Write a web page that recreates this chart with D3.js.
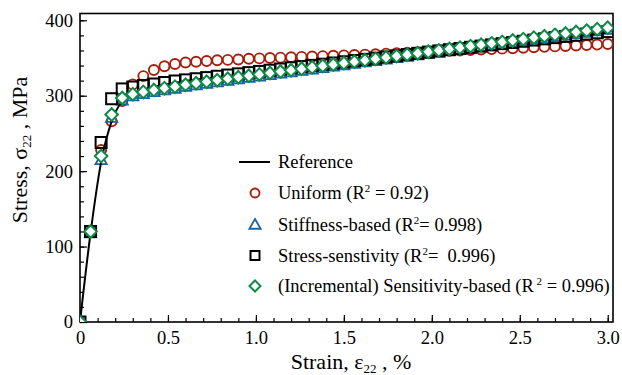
<!DOCTYPE html>
<html>
<head>
<meta charset="utf-8">
<script src="https://cdn.jsdelivr.net/npm/d3@7"></script>
<style>
  body { margin: 0; background: #fff; }
</style>
</head>
<body>
<div id="chart"></div>
<script>
const strain = [0, 0.06, 0.12, 0.18, 0.24, 0.30, 0.36, 0.42, 0.48, 0.54, 0.60, 0.66, 0.72, 0.78, 0.84, 0.90, 0.96,
  1.02, 1.08, 1.14, 1.20, 1.26, 1.32, 1.38, 1.44, 1.50, 1.56, 1.62, 1.68, 1.74, 1.80, 1.86, 1.92, 1.98,
  2.04, 2.10, 2.16, 2.22, 2.28, 2.34, 2.40, 2.46, 2.52, 2.58, 2.64, 2.70, 2.76, 2.82, 2.88, 2.94, 3.00];

const reference = [0, 118, 212, 266, 293, 303, 308, 311.5, 314.5, 317, 319.5, 321.5, 323, 324.6, 326.2, 327.8, 329.4,
  331, 332.6, 334.2, 335.8, 337.4, 339, 340.6, 342.2, 343.8, 345.4, 347, 348.6, 350.2, 351.8, 353.4, 355, 356.6,
  358.2, 359.8, 361.4, 363, 364.6, 366.2, 367.8, 369.4, 371, 372.6, 374.2, 375.8, 377.4, 379, 380.6, 382.2, 383.8];

const uniform = [0, 120, 228, 266, 293, 315, 326, 334, 339, 342, 344, 345, 346, 347, 347.5, 348, 349,
  349.5, 350, 350.5, 351, 351.5, 352, 352.5, 353, 353.5, 354, 354.5, 355, 355.8, 356.4, 357, 357.6, 358.2,
  358.8, 359.4, 360, 360.6, 361.2, 361.8, 362.4, 363, 363.6, 364.2, 364.8, 365.4, 366, 366.6, 367.2, 367.8, 368.6];

const stiffness = [0, 118, 215, 271, 294, 299.5, 302.5, 305, 307.5, 309.5, 312, 314, 316, 318, 320, 322, 324,
  325.7, 327.6, 329.5, 331.3, 333.2, 335.1, 337, 338.8, 340.7, 342.6, 344.5, 346.3, 348.2, 350.1, 351.9, 353.8, 355.7,
  357.6, 359.4, 361.3, 363.2, 365.1, 366.9, 368.8, 370.7, 372.5, 374.4, 376.3, 378.2, 380, 381.9, 383.8, 385.7, 387.5];

const stressSens = [0, 120, 238, 296, 309, 311.5, 313.5, 315.5, 317.5, 319.5, 321, 322.5, 324, 325.8, 327.4, 329, 330.6,
  332.2, 333.8, 335.4, 337, 338.6, 340.2, 341.8, 343.4, 345, 346.6, 348.2, 349.8, 351.4, 353, 354.6, 356.2, 357.8,
  359.4, 361, 362.6, 364.2, 365.8, 367.4, 369, 370.6, 372.2, 373.8, 375.4, 377, 378.6, 380.2, 381.8, 383.4, 385];

const incremental = [0, 120, 220, 275, 297, 302, 305, 307.5, 310, 312, 314.5, 316.5, 318.5, 320.5, 322.5, 324.5, 326.4,
  328.2, 330.1, 332, 333.8, 335.7, 337.6, 339.5, 341.3, 343.2, 345.1, 347, 348.8, 350.7, 352.6, 354.4, 356.3, 358.2,
  360.1, 361.9, 363.8, 365.7, 367.6, 369.4, 371.3, 373.2, 375, 376.9, 378.8, 380.7, 382.5, 384.4, 386.3, 388.2, 390];

const xTicks = [0, 0.5, 1.0, 1.5, 2.0, 2.5, 3.0];
const xTickLabels = ["0", "0.5", "1.0", "1.5", "2.0", "2.5", "3.0"];
const yTicks = [0, 100, 200, 300, 400];

const W = 622, H = 375;
const plot = { left: 80, right: 613, top: 13.5, bottom: 322 };
const serif = "Liberation Serif";

const svg = d3.select("#chart").append("svg")
    .attr("width", W)
    .attr("height", H);

const x = d3.scaleLinear().domain([0, 3.03]).range([plot.left, plot.right]);
const y = d3.scaleLinear().domain([0, 409]).range([plot.bottom, plot.top]);

svg.append("clipPath").attr("id", "clip")
  .append("rect")
    .attr("x", plot.left).attr("y", plot.top)
    .attr("width", plot.right - plot.left)
    .attr("height", plot.bottom - plot.top);

// ticks (inward), major + minor
const xAxis = svg.append("g").attr("transform", `translate(0,${plot.bottom})`);
xAxis.call(d3.axisBottom(x).tickValues(d3.range(0, 3.001, 0.1)).tickSize(-4).tickFormat(""));
xAxis.append("g").call(d3.axisBottom(x).tickValues(xTicks).tickSize(-7).tickFormat((d, i) => xTickLabels[i]));
xAxis.selectAll(".domain").remove();
xAxis.selectAll("line").attr("stroke", "#000").attr("stroke-width", 1.2);
xAxis.selectAll("text")
    .attr("y", 9)
    .attr("dy", "0.71em")
    .attr("fill", "#000")
    .attr("font-family", serif)
    .attr("font-size", 18.5);

const yAxis = svg.append("g").attr("transform", `translate(${plot.left},0)`);
yAxis.call(d3.axisLeft(y).tickValues(d3.range(0, 401, 20)).tickSize(-4).tickFormat(""));
yAxis.append("g").call(d3.axisLeft(y).tickValues(yTicks).tickSize(-7).tickFormat(d3.format("d")));
yAxis.selectAll(".domain").remove();
yAxis.selectAll("line").attr("stroke", "#000").attr("stroke-width", 1.2);
yAxis.selectAll("text")
    .attr("x", -7)
    .attr("fill", "#000")
    .attr("font-family", serif)
    .attr("font-size", 18.5);

// frame
svg.append("rect")
    .attr("x", plot.left).attr("y", plot.top)
    .attr("width", plot.right - plot.left)
    .attr("height", plot.bottom - plot.top)
    .attr("fill", "none")
    .attr("stroke", "#000")
    .attr("stroke-width", 1.6);

const colors = { uniform: "#a81e0c", stiff: "#1c62a8", incr: "#0d8a48" };

const marks = svg.append("g").attr("clip-path", "url(#clip)");

const pts = arr => strain.map((s, i) => ({ s: s, v: arr[i] }));

// Uniform circles
marks.append("g").selectAll("circle")
  .data(pts(uniform))
  .join("circle")
    .attr("cx", d => x(d.s))
    .attr("cy", d => y(d.v))
    .attr("r", 5)
    .attr("fill", "none")
    .attr("stroke", colors.uniform)
    .attr("stroke-width", 1.9);

// Stiffness-based triangles
const tri = d3.symbol().type(d3.symbolTriangle).size(55);
marks.append("g").selectAll("path")
  .data(pts(stiffness))
  .join("path")
    .attr("transform", d => `translate(${x(d.s)},${y(d.v) + 1})`)
    .attr("d", tri)
    .attr("fill", "none")
    .attr("stroke", colors.stiff)
    .attr("stroke-width", 1.8);

// Reference line
marks.append("path")
    .datum(pts(reference))
    .attr("fill", "none")
    .attr("stroke", "#000")
    .attr("stroke-width", 2)
    .attr("d", d3.line().curve(d3.curveMonotoneX).x(d => x(d.s)).y(d => y(d.v)));

// Stress-sensitivity squares
marks.append("g").selectAll("rect")
  .data(pts(stressSens))
  .join("rect")
    .attr("x", d => x(d.s) - 5.5)
    .attr("y", d => y(d.v) - 5.5)
    .attr("width", 11)
    .attr("height", 11)
    .attr("fill", "none")
    .attr("stroke", "#000")
    .attr("stroke-width", 2);

// Incremental diamonds
marks.append("g").selectAll("path")
  .data(pts(incremental))
  .join("path")
    .attr("transform", d => `translate(${x(d.s)},${y(d.v)})`)
    .attr("d", "M0,-6.3L6.3,0L0,6.3L-6.3,0Z")
    .attr("fill", "#fff")
    .attr("stroke", colors.incr)
    .attr("stroke-width", 2);

// Axis titles
const yt = svg.append("text")
    .attr("transform", "translate(27,150) rotate(-90)")
    .attr("text-anchor", "middle")
    .attr("font-family", serif)
    .attr("font-size", 22);
yt.append("tspan").text("Stress, σ");
yt.append("tspan").attr("dy", 4).attr("font-size", 13).text("22");
yt.append("tspan").attr("dy", -4).text(" , MPa");

const xt = svg.append("text")
    .attr("x", 351)
    .attr("y", 369)
    .attr("text-anchor", "middle")
    .attr("font-family", serif)
    .attr("font-size", 22);
xt.append("tspan").text("Strain, ε");
xt.append("tspan").attr("dy", 4).attr("font-size", 13).text("22");
xt.append("tspan").attr("dy", -4).text(" , %");

// Legend
const legendRows = [
  { key: "ref", y: 162, pre: "Reference" },
  { key: "uniform", y: 193, pre: "Uniform (R", sup: "2", post: " = 0.92)" },
  { key: "stiff", y: 224.5, pre: "Stiffness-based (R", sup: "2", post: "= 0.998)" },
  { key: "stress", y: 255.5, pre: "Stress-senstivity (R", sup: "2", post: "=\u00a0 0.996)" },
  { key: "incr", y: 286, pre: "(Incremental) Sensitivity-based (R", sup: "\u00a02", post: " = 0.996)" }
];

const lg = svg.append("g");
legendRows.forEach(r => {
  if (r.key === "ref") {
    lg.append("line").attr("x1", 239).attr("x2", 270).attr("y1", r.y).attr("y2", r.y)
      .attr("stroke", "#000").attr("stroke-width", 2);
  } else if (r.key === "uniform") {
    lg.append("circle").attr("cx", 255).attr("cy", r.y).attr("r", 4.5)
      .attr("fill", "none").attr("stroke", colors.uniform).attr("stroke-width", 1.9);
  } else if (r.key === "stiff") {
    lg.append("path").attr("transform", `translate(255,${r.y + 1})`).attr("d", tri)
      .attr("fill", "none").attr("stroke", colors.stiff).attr("stroke-width", 1.8);
  } else if (r.key === "stress") {
    lg.append("rect").attr("x", 250.5).attr("y", r.y - 4.5).attr("width", 9).attr("height", 9)
      .attr("fill", "none").attr("stroke", "#000").attr("stroke-width", 2);
  } else {
    lg.append("path").attr("transform", `translate(255,${r.y})`).attr("d", "M0,-5.5L5.5,0L0,5.5L-5.5,0Z")
      .attr("fill", "#fff").attr("stroke", colors.incr).attr("stroke-width", 2);
  }
  const t = lg.append("text")
      .attr("x", 278)
      .attr("y", r.y + 6)
      .attr("font-family", serif)
      .attr("font-size", 18.5);
  t.append("tspan").text(r.pre);
  if (r.sup) {
    t.append("tspan").attr("dy", -7).attr("font-size", 11).text(r.sup);
    t.append("tspan").attr("dy", 7).text(r.post);
  }
});
</script>
</body>
</html>
